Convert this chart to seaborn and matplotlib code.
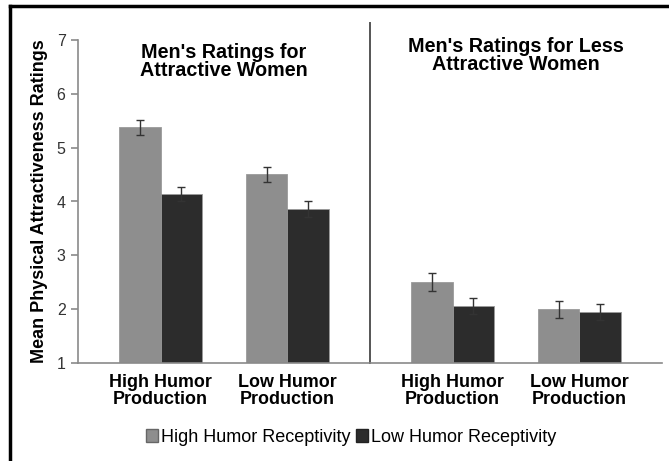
import seaborn as sns
import matplotlib.pyplot as plt
import pandas as pd
from matplotlib.lines import Line2D
from matplotlib.patches import Patch

plt.rcParams['font.family'] = ['Liberation Sans', 'DejaVu Sans']

# data
production = ["High Humor\nProduction", "Low Humor\nProduction"]
receptivity = ["High Humor Receptivity", "Low Humor Receptivity"]
panel_titles = ["Men's Ratings for\nAttractive Women",
                "Men's Ratings for Less\nAttractive Women"]

attr_high_rec = [5.38, 4.51]
attr_low_rec = [4.14, 3.86]
attr_high_err = [0.14, 0.14]
attr_low_err = [0.13, 0.14]

less_high_rec = [2.51, 2.00]
less_low_rec = [2.06, 1.95]
less_high_err = [0.17, 0.16]
less_low_err = [0.15, 0.15]

light = '#8e8e8e'
dark = '#2c2c2c'
pal = {receptivity[0]: light, receptivity[1]: dark}


def make_df(high, low, high_err, low_err):
    rows = []
    for i, p in enumerate(production):
        rows.append((p, receptivity[0], high[i], high_err[i]))
        rows.append((p, receptivity[1], low[i], low_err[i]))
    return pd.DataFrame(rows, columns=['production', 'receptivity', 'rating', 'err'])


dfs = [make_df(attr_high_rec, attr_low_rec, attr_high_err, attr_low_err),
       make_df(less_high_rec, less_low_rec, less_high_err, less_low_err)]

fig = plt.figure(figsize=(6.69, 4.61), dpi=100)
ax1 = fig.add_axes([78 / 669, 98 / 461, 292 / 669, 323 / 461])
ax2 = fig.add_axes([370 / 669, 98 / 461, 292 / 669, 323 / 461], sharey=ax1)

title_y = [0.99, 1.01]
for ax, df, title, ty in zip([ax1, ax2], dfs, panel_titles, title_y):
    sns.barplot(data=df, x='production', y='rating', hue='receptivity',
                order=production, hue_order=receptivity, palette=pal,
                width=0.65, gap=0, errorbar=None, saturation=1,
                edgecolor='#9a9a9a', linewidth=0.6, legend=False, ax=ax)
    # error bars at the bar centres seaborn laid out
    for cont, rec in zip(ax.containers, receptivity):
        sub = df[df['receptivity'] == rec].set_index('production').loc[production]
        xs = [b.get_x() + b.get_width() / 2 for b in cont]
        ax.errorbar(xs, sub['rating'], yerr=sub['err'], fmt='none',
                    ecolor='#333333', elinewidth=1, capsize=3, capthick=1)
    ax.set_xlim(-0.65, 1.65)
    ax.set_ylim(1, 7)
    ax.set_xlabel('')
    ax.set_ylabel('')
    ax.tick_params(axis='x', length=0, pad=8)
    for lbl in ax.get_xticklabels():
        lbl.set_fontsize(12.9)
        lbl.set_fontweight('bold')
        lbl.set_linespacing(1.0)
    ax.text(0.5, ty, title, transform=ax.transAxes, ha='center', va='top',
            fontsize=14.2, fontweight='bold', linespacing=0.95)
    for s in ['top', 'right']:
        ax.spines[s].set_visible(False)
    ax.spines['bottom'].set_color('#8a8a8a')
    ax.spines['bottom'].set_linewidth(1.2)

ax1.spines['left'].set_color('#8a8a8a')
ax1.spines['left'].set_linewidth(1.2)
ax1.set_yticks(range(1, 8))
ax1.tick_params(axis='y', length=5, width=1.2, color='#8a8a8a',
                labelsize=11.5, labelcolor='#333333', pad=4)
ax1.set_ylabel('Mean Physical Attractiveness Ratings', fontsize=13,
               fontweight='bold', labelpad=6)

# divider between the two panels
ax2.spines['left'].set_visible(False)
ax2.tick_params(axis='y', left=False, labelleft=False)
ax2.axvline(-0.65, ymin=0, ymax=1.053, color='#555555', linewidth=1.4,
            clip_on=False)

handles = [Patch(facecolor=light, edgecolor='#666666', label=receptivity[0]),
           Patch(facecolor=dark, edgecolor='#222222', label=receptivity[1])]
fig.legend(handles=handles, loc='center', bbox_to_anchor=(351 / 669, 1 - 437 / 461),
           ncol=2, frameon=False, fontsize=13, handlelength=0.7, handleheight=0.7,
           handletextpad=0.15, columnspacing=0.3)

# outer black frame (top and left edges)
fig.add_artist(Line2D([10 / 669, 1], [1 - 6 / 461, 1 - 6 / 461], color='black',
                      linewidth=2.5, transform=fig.transFigure))
fig.add_artist(Line2D([10 / 669, 10 / 669], [0, 1 - 6 / 461], color='black',
                      linewidth=2.5, transform=fig.transFigure))

fig.savefig('out.png', dpi=100)
